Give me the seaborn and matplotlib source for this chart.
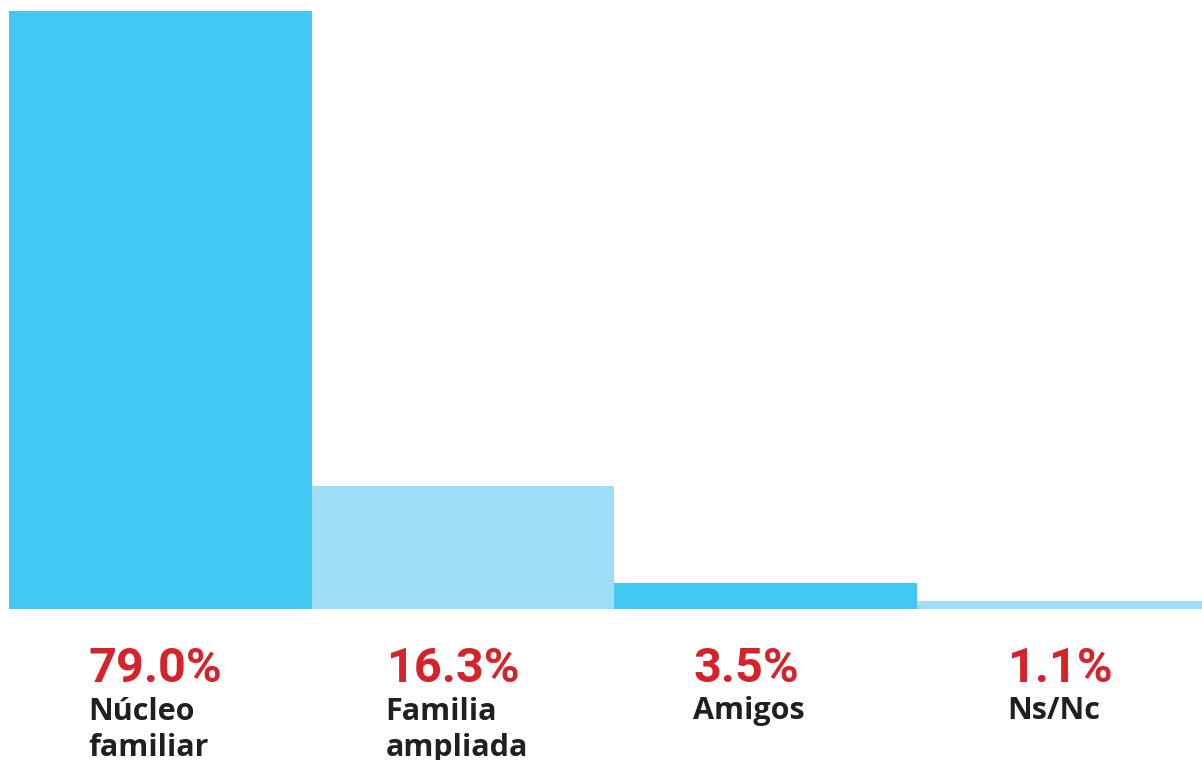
import pandas as pd
import matplotlib.pyplot as plt
import matplotlib.transforms as mtransforms
import seaborn as sns

# datos
categorias = ["Núcleo\nfamiliar", "Familia\nampliada", "Amigos", "Ns/Nc"]
porcentajes = [79.0, 16.3, 3.5, 1.1]
colores = ["#42C8F4", "#9EDCF7", "#42C8F4", "#9EDCF7"]

df = pd.DataFrame({"cat": categorias, "pct": porcentajes})

sns.set_theme(style="white")
plt.rcParams["font.family"] = ["Roboto", "DejaVu Sans"]

fig = plt.figure(figsize=(12.02, 7.6), dpi=100)
ax = fig.add_axes([9 / 1202, 151 / 760, 1193 / 1202, 598 / 760])

sns.barplot(data=df, x="cat", y="pct", hue="cat", palette=colores,
            width=1.0, dodge=False, legend=False, linewidth=0, saturation=1, ax=ax)

ax.set_xlim(-0.5, 3.441)
ax.set_ylim(0, 79.0)
ax.axis("off")

# etiquetas debajo de las barras
trans = mtransforms.blended_transform_factory(ax.transData, fig.transFigure)
offs = [0.261, 0.244, 0.261, 0.297]
for i, (c, p) in enumerate(zip(categorias, porcentajes)):
    x = i - 0.5 + offs[i]
    ax.text(x, 1 - 682 / 760, f"{p:.1f}%", transform=trans, ha="left", va="baseline",
            fontsize=35, fontweight="bold", color="#D4232B")
    # baseline de la última línea
    n = c.count("\n")
    ax.text(x, 1 - (719 + 37 * n) / 760, c, transform=trans, ha="left", va="baseline",
            fontsize=22, fontweight="bold", color="#231F20", linespacing=1.25,
            family=["Open Sans", "DejaVu Sans"])

fig.savefig("out.png", dpi=100)
